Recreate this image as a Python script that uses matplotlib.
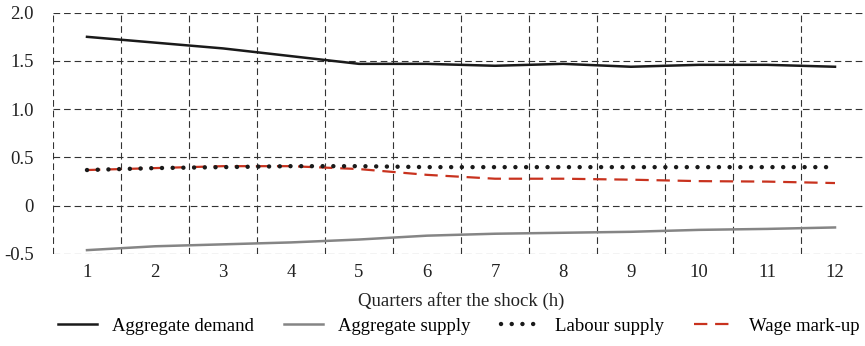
import numpy as np
import matplotlib
matplotlib.use("Agg")
import matplotlib.pyplot as plt

plt.rcParams['font.family'] = ['Liberation Serif', 'DejaVu Serif']

quarters = np.arange(1, 13)
agg_demand = [1.75, 1.69, 1.63, 1.55, 1.47, 1.47, 1.45, 1.47, 1.44, 1.46, 1.46, 1.44]
agg_supply = [-0.46, -0.42, -0.40, -0.38, -0.35, -0.31, -0.29, -0.28, -0.27, -0.25, -0.24, -0.225]
labour_supply = [0.37, 0.39, 0.40, 0.41, 0.41, 0.40, 0.40, 0.40, 0.40, 0.40, 0.40, 0.40]
wage_markup = [0.37, 0.39, 0.41, 0.41, 0.38, 0.32, 0.28, 0.28, 0.27, 0.255, 0.25, 0.235]
ytick_vals = [-0.5, 0.0, 0.5, 1.0, 1.5, 2.0]
ytick_labels = ['-0.5', '0', '0.5', '1.0', '1.5', '2.0']

fs = 13.5

fig = plt.figure(figsize=(8.65, 3.46), dpi=100)
ax = fig.add_axes([53 / 865, 92 / 346, 816 / 865, 241.3 / 346])

ax.plot(quarters, agg_demand, color='#1a1a1a', lw=1.8, label='Aggregate demand')
ax.plot(quarters, agg_supply, color='#858585', lw=1.8, label='Aggregate supply')
ax.plot(quarters, wage_markup, color='#c8321e', lw=1.6, dashes=(6, 3.5),
        label='Wage mark-up')
ax.plot(quarters, labour_supply, color='#1a1a1a', lw=3.2, dashes=(0.01, 2.4),
        dash_capstyle='round', label='Labour supply')

ax.set_xlim(0.5, 12.5)
ax.set_ylim(-0.5, 2.0)

# grid lines sit on the category boundaries, like a spreadsheet chart
for xb in np.arange(0.5, 13.0, 1.0):
    ax.axvline(xb, color='#333333', lw=0.8, dashes=(6, 3.5), zorder=0)
for yv in ytick_vals:
    ax.axhline(yv, color='#333333', lw=0.8, dashes=(6, 3.5), zorder=0)
for s in ax.spines.values():
    s.set_visible(False)

ax.set_xticks(quarters)
ax.set_yticks(ytick_vals)
ax.set_yticklabels(ytick_labels)
ax.tick_params(axis='both', length=0, labelsize=fs, colors='#222222')
ax.tick_params(axis='y', pad=14)
ax.tick_params(axis='x', pad=7)
ax.set_xlabel('Quarters after the shock (h)', fontsize=fs, labelpad=8, color='#222222')

handles, labels = ax.get_legend_handles_labels()
order = [0, 1, 3, 2]
fig.legend([handles[i] for i in order], [labels[i] for i in order],
           loc='center', bbox_to_anchor=(0.53, 20 / 346), ncol=4, frameon=False,
           fontsize=fs, handlelength=2.1, columnspacing=1.6, handletextpad=0.8,
           borderaxespad=0, borderpad=0)

fig.savefig('out.png', dpi=100)
